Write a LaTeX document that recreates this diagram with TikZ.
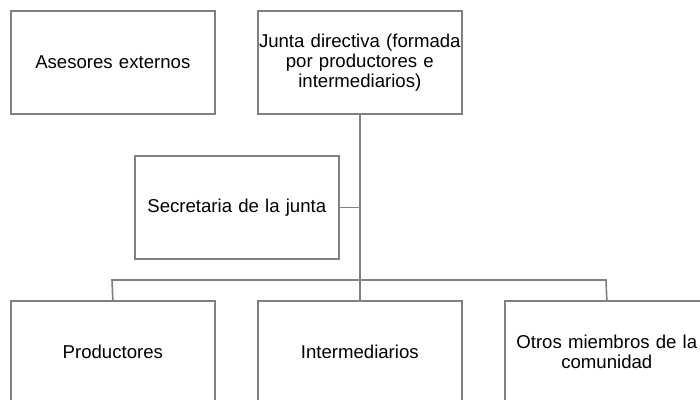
\documentclass[tikz,border=0pt]{standalone}
\usepackage{fontspec}
\setmainfont{Liberation Sans}
\definecolor{linegray}{HTML}{808080}
\begin{document}
\begin{tikzpicture}[x=1pt,y=-1pt,
  box/.style={draw=linegray,line width=1.6pt,minimum width=204pt,minimum height=103pt,
    inner sep=0pt,anchor=north west,align=center,text width=204pt,
    font=\fontsize{18.6}{20}\selectfont},
  conn/.style={draw=linegray,line width=1.6pt}]
\useasboundingbox (0,0) rectangle (700,399);
\node[box] (ase) at (10,10) {Asesores externos};
\node[box] (jun) at (257,10) {Junta directiva (formada\\por productores e\\intermediarios)};
\node[box] (sec) at (134,155) {Secretaria de la junta};
\node[box] (pro) at (10,300) {Productores};
\node[box] (int) at (257,300) {Intermediarios};
\node[box] (otr) at (504,300) {Otros miembros de la\\comunidad};
\coordinate (hl) at (112,280);
\coordinate (hr) at (606,280);
\draw[conn] (jun.south) -- (int.north);
\draw[conn] (sec.east) -- (sec.east -| jun.south);
\draw[conn] (pro.north) -- (hl) -- (hr) -- (otr.north);
\end{tikzpicture}
\end{document}
